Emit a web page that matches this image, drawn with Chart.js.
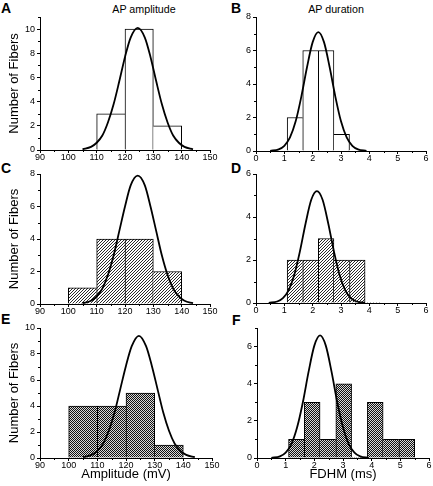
<!DOCTYPE html>
<html>
<head>
<meta charset="utf-8">
<script src="https://cdn.jsdelivr.net/npm/chart.js@4.4.1/dist/chart.umd.min.js"></script>
<style>
  body { margin: 0; width: 433px; height: 486px; overflow: hidden; background: #fff; position: relative; font-family: 'Liberation Sans', Arial, sans-serif; color: #000; }
  canvas { position: absolute; }
  .lbl { position: absolute; font-weight: bold; font-size: 14px; line-height: 14px; }
  .ttl { position: absolute; width: 200px; text-align: center; font-size: 10.7px; line-height: 12px; }
</style>
</head>
<body>
<div class="lbl" style="left:1px;top:1px">A</div>
<div class="lbl" style="left:231px;top:1px">B</div>
<div class="lbl" style="left:1px;top:161px">C</div>
<div class="lbl" style="left:231px;top:161px">D</div>
<div class="lbl" style="left:1px;top:312px">E</div>
<div class="lbl" style="left:232px;top:313px">F</div>
<div class="ttl" style="left:44px;top:3px">AP amplitude</div>
<div class="ttl" style="left:236px;top:3px">AP duration</div>

<canvas id="chartA"></canvas>
<canvas id="chartB"></canvas>
<canvas id="chartC"></canvas>
<canvas id="chartD"></canvas>
<canvas id="chartE"></canvas>
<canvas id="chartF"></canvas>

<script>
// Histogramm-Klassen (Mitte der Klassen)
const ampCenters = [105, 115, 125, 135];
const ampCountsA = [0, 3, 10, 2];
const ampCountsC = [1, 4, 4, 2];
const ampCountsE = [4, 4, 5, 1];

const durCenters = [1.375, 1.925, 2.475, 3.025, 3.575, 4.125, 4.675, 5.225];
const durCountsB = [2, 6, 6, 1, 0, 0, 0, 0];
const durCountsD = [2, 2, 3, 2, 2, 0, 0, 0];
const durCountsF = [1, 3, 1, 4, 0, 3, 1, 1];

// Gauss-Kurven, Punkte
const ampCurveX = [105, 108, 110, 112, 114, 116, 118, 120, 122, 124.5, 127, 129, 131, 133, 135, 137, 139, 141, 144];
const ampCurveA = [0.06, 0.26, 0.6, 1.2, 2.3, 3.8, 5.7, 7.7, 9.3, 10.1, 9.3, 7.7, 5.7, 3.8, 2.3, 1.2, 0.6, 0.26, 0.06];
const ampCurveC = [0.05, 0.2, 0.47, 0.95, 1.8, 3.0, 4.5, 6.0, 7.3, 7.9, 7.3, 6.0, 4.5, 3.0, 1.8, 0.95, 0.47, 0.2, 0.05];
const ampCurveE = [0.06, 0.24, 0.55, 1.1, 2.1, 3.5, 5.3, 7.1, 8.6, 9.4, 8.6, 7.1, 5.3, 3.5, 2.1, 1.1, 0.55, 0.24, 0.06];

const durCurveX = [0.5, 0.8, 1.0, 1.2, 1.4, 1.6, 1.8, 2.0, 2.2, 2.4, 2.6, 2.8, 3.0, 3.2, 3.4, 3.6, 3.9];
const durCurveDX = [0.45, 0.75, 0.95, 1.15, 1.35, 1.55, 1.75, 1.95, 2.15, 2.35, 2.55, 2.75, 2.95, 3.15, 3.35, 3.55, 3.85];
const durCurveB = [0.01, 0.1, 0.31, 0.81, 1.77, 3.25, 5.0, 6.5, 7.1, 6.5, 5.0, 3.25, 1.77, 0.81, 0.31, 0.1, 0.01];
const durCurveD = [0.01, 0.07, 0.23, 0.59, 1.3, 2.4, 3.7, 4.8, 5.2, 4.8, 3.7, 2.4, 1.3, 0.59, 0.23, 0.07, 0.01];
const durCurveF = [0.01, 0.09, 0.29, 0.75, 1.65, 3.0, 4.65, 6.05, 6.6, 6.05, 4.65, 3.0, 1.65, 0.75, 0.29, 0.09, 0.01];

Chart.defaults.font.family = "'Liberation Sans', Arial, sans-serif";
Chart.defaults.color = '#000';

function makePattern(kind) {
    const c = document.createElement('canvas');
    const g = c.getContext('2d');
    if (kind === 'hatch') {
        c.width = 3; c.height = 3;
        g.fillStyle = '#fff'; g.fillRect(0, 0, 3, 3);
        g.fillStyle = '#2a2a2a';
        g.fillRect(2, 0, 1, 1); g.fillRect(1, 1, 1, 1); g.fillRect(0, 2, 1, 1);
    } else {
        c.width = 2; c.height = 2;
        g.fillStyle = '#d8d8d8'; g.fillRect(0, 0, 2, 2);
        g.fillStyle = '#111';
        g.fillRect(0, 0, 1, 1); g.fillRect(1, 1, 1, 1);
    }
    return g.createPattern(c, 'repeat');
}

// kleine Zwischenstriche an den Achsen
const minorTicks = {
    id: 'minorTicks',
    afterDraw(chart, args, opts) {
        const { ctx, chartArea, scales: { x, y } } = chart;
        ctx.save();
        ctx.strokeStyle = '#000';
        ctx.lineWidth = 1;
        ctx.beginPath();
        for (let v = x.min + opts.xStep / 2; v < x.max; v += opts.xStep) {
            const px = Math.round(x.getPixelForValue(v)) + 0.5;
            ctx.moveTo(px, chartArea.bottom);
            ctx.lineTo(px, chartArea.bottom + 2);
        }
        for (let v = 1; v <= y.max; v += 2) {
            const py = Math.round(y.getPixelForValue(v)) + 0.5;
            ctx.moveTo(chartArea.left, py);
            ctx.lineTo(chartArea.left - 2, py);
        }
        ctx.stroke();
        ctx.restore();
    }
};

function makePanel(id, box, xMin, xMax, xStep, yMax, centers, counts, curveX, curveY, fill, xTitle, yTitle) {
    const [L, R, T, B] = box;
    const el = document.getElementById(id);
    el.width = R - L + 52;
    el.height = B - T + 38;
    el.style.left = (L - 40) + 'px';
    el.style.top = (T - 8) + 'px';

    new Chart(el.getContext('2d'), {
        type: 'bar',
        data: {
            datasets: [
                {
                    type: 'line',
                    data: curveX.map((x, i) => ({ x: x, y: curveY[i] })),
                    borderColor: '#000',
                    borderWidth: 1.8,
                    pointRadius: 0,
                    cubicInterpolationMode: 'monotone',
                    order: 0
                },
                {
                    type: 'bar',
                    data: centers.map((x, i) => ({ x: x, y: counts[i] })),
                    backgroundColor: fill,
                    borderColor: '#000',
                    // gemeinsame Kante nur einmal zeichnen, vom hoeheren Balken
                    borderWidth: ctx => {
                        const i = ctx.dataIndex;
                        const cur = counts[i], prev = counts[i - 1], next = counts[i + 1];
                        return {
                            top: 1,
                            bottom: 0,
                            left: (prev === undefined || prev <= cur) ? 1 : 0,
                            right: (next === undefined || next < cur) ? 1 : 0
                        };
                    },
                    barPercentage: 1,
                    categoryPercentage: 1,
                    order: 1
                }
            ]
        },
        options: {
            responsive: false,
            animation: false,
            devicePixelRatio: 1,
            layout: { padding: { top: 8, right: 12, left: 0, bottom: 0 } },
            plugins: {
                legend: { display: false },
                tooltip: { enabled: false },
                minorTicks: { xStep: xStep }
            },
            scales: {
                x: {
                    type: 'linear',
                    min: xMin,
                    max: xMax,
                    offset: false,
                    afterFit: s => { s.height = 30; },
                    ticks: { stepSize: xStep, autoSkip: false, maxRotation: 0, padding: -1, font: { size: 9 } },
                    grid: { drawOnChartArea: false, tickLength: 3, tickColor: '#000', offset: false },
                    border: { color: '#000', width: 1 },
                    title: { display: !!xTitle, text: xTitle, font: { size: 13 }, padding: { top: 0, bottom: 6 } }
                },
                y: {
                    min: 0,
                    max: yMax,
                    afterFit: s => { s.width = 40; },
                    ticks: { stepSize: 2, autoSkip: false, padding: 2, font: { size: 9 }, callback: v => (v % 2 === 0 ? v : '') },
                    grid: {
                        drawOnChartArea: false,
                        tickLength: 3,
                        tickColor: ctx => (ctx.tick && ctx.tick.value % 2 === 0 ? '#000' : 'rgba(0,0,0,0)')
                    },
                    border: { color: '#000', width: 1 },
                    title: { display: !!yTitle, text: yTitle, font: { size: 13 }, padding: { top: 6.2, bottom: 0 } }
                }
            }
        },
        plugins: [minorTicks]
    });
}

const white = '#fff';
const hatch = makePattern('hatch');
const cross = makePattern('cross');

makePanel('chartA', [40, 210, 17, 150], 90, 150, 10, 11, ampCenters, ampCountsA, ampCurveX, ampCurveA, white, '', 'Number of Fibers');
makePanel('chartB', [256, 426, 17, 151], 0, 6, 1, 8, durCenters, durCountsB, durCurveX, durCurveB, white, '', '');
makePanel('chartC', [40, 210, 174, 304], 90, 150, 10, 8, ampCenters, ampCountsC, ampCurveX, ampCurveC, hatch, '', 'Number of Fibers');
makePanel('chartD', [256, 426, 174, 303], 0, 6, 1, 6, durCenters, durCountsD, durCurveDX, durCurveD, hatch, '', '');
makePanel('chartE', [40, 212, 328, 458], 90, 150, 10, 10, ampCenters, ampCountsE, ampCurveX, ampCurveE, cross, 'Amplitude (mV)', 'Number of Fibers');
makePanel('chartF', [257, 429, 328, 458], 0, 6, 1, 7, durCenters, durCountsF, durCurveX, durCurveF, cross, 'FDHM (ms)', '');
</script>
</body>
</html>
